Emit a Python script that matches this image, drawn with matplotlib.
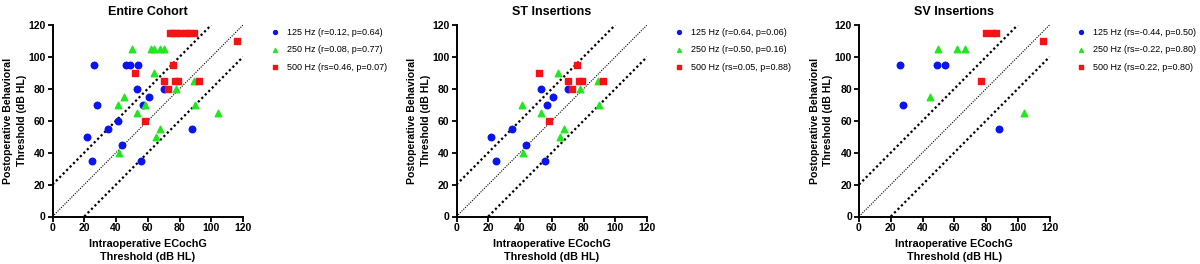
import matplotlib.pyplot as plt
import numpy as np

plt.rcParams['font.family'] = ['Liberation Sans', 'DejaVu Sans']

# ---- Entire cohort ----
all_125_x = [22, 25, 26, 28, 35, 41, 44, 46, 49, 53, 54, 56, 57, 61, 70, 88]
all_125_y = [50, 35, 95, 70, 55, 60, 45, 95, 95, 80, 95, 35, 70, 75, 80, 55]
all_250_x = [41, 42, 45, 50, 53, 58, 62, 64, 64, 65, 68, 68, 70, 78, 89, 90, 104]
all_250_y = [70, 40, 75, 105, 65, 70, 105, 105, 90, 50, 55, 105, 105, 80, 85, 70, 65]
all_500_x = [52, 58, 70, 73, 74, 76, 78, 80, 76, 77, 79, 84, 86, 89, 92, 116]
all_500_y = [90, 60, 85, 80, 115, 115, 115, 115, 95, 85, 85, 115, 115, 115, 85, 110]

# ---- ST insertions ----
st_125_x = [22, 25, 35, 44, 53, 56, 57, 61, 70]
st_125_y = [50, 35, 55, 45, 80, 35, 70, 75, 80]
st_250_x = [41, 42, 53, 64, 65, 68, 78, 89, 90]
st_250_y = [70, 40, 65, 90, 50, 55, 80, 85, 70]
st_500_x = [52, 58, 70, 73, 76, 77, 79, 92]
st_500_y = [90, 60, 85, 80, 95, 85, 85, 85]

# ---- SV insertions ----
sv_125_x = [26, 28, 49, 54, 88]
sv_125_y = [95, 70, 95, 95, 55]
sv_250_x = [45, 50, 62, 67, 104]
sv_250_y = [75, 105, 105, 105, 65]
sv_500_x = [80, 84, 86, 77, 116]
sv_500_y = [115, 115, 115, 85, 110]

titles = ["Entire Cohort", "ST Insertions", "SV Insertions"]
labels = [
    ["125 Hz (r=0.12, p=0.64)", "250 Hz (r=0.08, p=0.77)", "500 Hz (rs=0.46, p=0.07)"],
    ["125 Hz (r=0.64, p=0.06)", "250 Hz (r=0.50, p=0.16)", "500 Hz (rs=0.05, p=0.88)"],
    ["125 Hz (rs=-0.44, p=0.50)", "250 Hz (rs=-0.22, p=0.80)", "500 Hz (rs=0.22, p=0.80)"],
]
panels = [
    (all_125_x, all_125_y, all_250_x, all_250_y, all_500_x, all_500_y),
    (st_125_x, st_125_y, st_250_x, st_250_y, st_500_x, st_500_y),
    (sv_125_x, sv_125_y, sv_250_x, sv_250_y, sv_500_x, sv_500_y),
]
lefts = [52.5, 456.5, 859]

fig = plt.figure(figsize=(12, 2.64), dpi=100)

for i, (d, title, labs) in enumerate(zip(panels, titles, labels)):
    ax = fig.add_axes([lefts[i] / 1200, 47.5 / 264, 190.5 / 1200, 191.5 / 264])

    # reference lines: unity and +/-20 dB
    ax.plot([0, 120], [0, 120], color="black", linestyle=(0, (1, 1.2)), linewidth=0.8)
    ax.plot([0, 100], [20, 120], color="black", linestyle=(0, (1, 1.2)), linewidth=1.6)
    ax.plot([20, 120], [0, 100], color="black", linestyle=(0, (1, 1.2)), linewidth=1.6)

    ax.scatter(d[0], d[1], marker="o", s=22, color="#0a14f0", label=labs[0], zorder=3)
    ax.scatter(d[2], d[3], marker="^", s=22, color="#22e622", label=labs[1], zorder=3)
    ax.scatter(d[4], d[5], marker="s", s=22, color="#f01414", label=labs[2], zorder=3)

    ax.set_xlim(0, 120)
    ax.set_ylim(0, 120)
    ax.set_xticks(np.arange(0, 121, 20))
    ax.set_yticks(np.arange(0, 121, 20))
    for lab in ax.get_xticklabels() + ax.get_yticklabels():
        lab.set_fontweight("bold")
    ax.tick_params(labelsize=7.5, width=1.3, length=3.5, direction="out", pad=1.5)
    for s in ["top", "right"]:
        ax.spines[s].set_visible(False)
    for s in ["left", "bottom"]:
        ax.spines[s].set_linewidth(1.4)

    ax.set_title(title, fontsize=9, fontweight="bold", pad=7)
    ax.set_xlabel("Intraoperative ECochG\nThreshold (dB HL)", fontsize=7.8, fontweight="bold",
                  labelpad=4, linespacing=1.4)
    ax.set_ylabel("Postoperative Behavioral\nThreshold (dB HL)", fontsize=7.6, fontweight="bold",
                  labelpad=1, linespacing=1.45)

    ax.legend(loc="upper left", bbox_to_anchor=(1.13, 1.005), frameon=False, fontsize=6.5,
              handletextpad=0.9, labelspacing=0.95, borderaxespad=0, handlelength=0.8,
              markerscale=0.6)

fig.savefig("out.png", dpi=100)
